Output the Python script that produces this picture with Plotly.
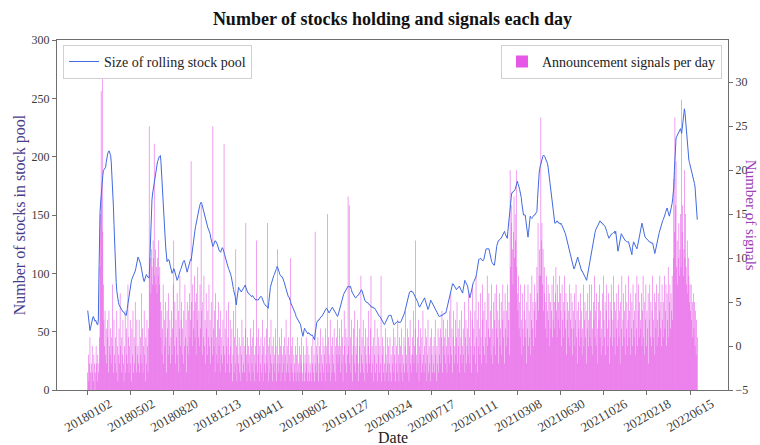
import plotly.graph_objects as go

# Tick labels along the trading-day axis (one label every 77 trading days)
tick_dates = ["20180102", "20180502", "20180820", "20181213", "20190411",
              "20190802", "20191127", "20200324", "20200717", "20201111",
              "20210308", "20210630", "20211026", "20220218", "20220615"]
TICK_STEP = 77

# Size of the rolling stock pool, one value per trading day
pool_p0 = [68,62,58,54,51,53,56,59,61,62, 63,62,60,59,60,58,57,56,56,60, 95,135,152,160,168,175,180,184,188,189,
           190,191,191,195,199,201,203,204,205,204, 203,201,196,188,176,166,157,142,126,111, 101,92,85,80,77,75,73,72,71,70,
           70,69,68,67,67,66,66,65,64,64, 66,70,74,78,81,83,86,90,93,95, 96,97,98,99,100,102,104,107,110,112]
pool_p1 = [114,113,112,110,109,107,104,101,98,96, 94,93,95,97,98,99,98,97,96,96, 96,112,130,146,157,163,168,171,175,180,
           184,186,189,191,194,196,197,199,200,200, 201,196,186,174,164,155,147,140,134,127, 120,114,110,111,112,111,111,108,105,102,
           101,100,101,102,104,103,101,99,97,95, 94,95,97,99,101,102,103,104,106,107, 108,110,111,111,109,106,104,102,101,103]
pool_p2 = [105,107,109,111,112,111,115,120,126,130, 132,134,137,140,143,146,148,149,152,155, 157,159,160,161,160,158,155,153,151,149,
           147,145,143,142,140,139,138,137,136,134, 131,129,127,125,123,124,126,127,128,127, 127,126,124,122,121,120,119,118,118,120,
           121,122,121,120,118,116,114,112,110,109, 107,106,104,103,102,100,99,97,95,92, 89,86,84,83,80,76,73,78,84,88]
pool_p3 = [88,87,86,85,84,84,85,86,87,88, 89,90,90,88,86,85,84,83,83,82, 82,81,81,80,80,81,80,79,79,78,
           78,77,78,77,77,77,78,79,80,80, 80,80,79,77,76,75,74,73,73,72, 72,71,70,70,75,81,86,88,90,92,
           93,94,96,98,99,101,102,103,104,106, 105,103,101,100,99,98,98,97,97,96, 95,94,92,90,88,86,84,83,82,80]
pool_p4 = [80,79,77,76,74,73,71,70,69,68, 67,66,65,63,62,61,60,59,59,58, 57,56,53,50,48,46,48,51,53,52,
           51,50,49,49,48,49,49,48,48,47, 47,47,47,46,45,44,43,48,53,57, 58,59,59,60,60,61,62,62,63,63,
           64,65,66,66,67,68,69,70,70,69, 68,67,66,67,68,69,70,71,71,70, 69,68,67,66,65,64,63,63,64,66]
pool_p5 = [68,70,72,74,76,77,79,80,82,83, 84,85,86,87,88,89,89,89,88,88, 89,88,86,84,83,82,81,80,79,79,
           79,80,80,81,81,82,83,84,85,85, 86,85,83,81,79,77,77,76,76,75, 75,75,74,74,73,73,72,72,71,71,
           71,71,70,70,70,69,68,67,66,66, 65,64,63,63,62,61,60,59,58,57, 56,56,57,58,60,61,62,63,63,64]
pool_p6 = [64,64,64,64,62,60,58,57,56,56, 57,57,58,58,59,59,58,58,58,58, 58,59,60,61,62,63,64,66,68,70,
           72,74,77,79,81,83,84,84,85,85, 84,84,84,83,82,81,80,79,79,78, 76,75,73,72,71,72,73,74,75,76,
           77,78,78,79,77,75,73,71,70,69, 70,72,74,76,77,76,75,74,73,72, 71,70,69,68,67,66,65,64,63,63]
pool_p7 = [63,63,64,64,64,64,65,65,65,66, 66,66,68,70,72,74,76,79,82,84, 86,88,90,91,91,90,89,88,87,86,
           86,87,87,88,88,89,88,87,86,85, 84,83,86,89,92,94,93,92,91,90, 89,86,83,80,79,81,84,87,89,91,
           92,93,94,95,96,97,100,104,108,111, 112,112,113,113,112,112,111,111,111,112, 114,117,120,121,121,121,121,121,121,119]
pool_p8 = [116,114,111,110,109,108,107,107,107,112, 116,120,123,125,127,128,128,129,129,130, 130,131,132,133,134,135,136,134,133,132,
           131,130,136,142,147,151,156,161,165,169, 169,170,170,171,171,172,174,176,177,179, 177,176,174,172,170,169,165,160,155,151,
           150,150,150,150,146,142,138,134,131,135, 140,145,149,148,147,147,148,149,149,150, 150,151,152,152,153,163,174,180,186,190]
pool_p9 = [192,194,196,198,200,201,201,201,200,199, 198,197,196,194,191,187,183,178,174,170, 165,161,157,153,150,146,143,143,144,144,
           145,144,144,143,143,143,142,143,142,141, 140,139,138,137,135,134,132,130,129,127, 125,123,120,118,115,113,111,109,107,105,
           104,104,106,108,110,112,113,114,112,110, 108,106,104,103,102,102,101,101,100,99, 98,97,95,94,97,100,103,106,109,112]
pool_p10 = [115,118,121,123,126,128,131,133,135,137, 138,140,141,142,143,144,145,145,144,144, 143,143,142,142,141,141,140,139,138,136,
            134,132,131,130,131,132,133,133,134,134, 135,135,135,136,134,136,132,127,122,119, 121,124,127,130,132,134,133,132,131,130,
            129,129,128,128,127,127,127,127,127,125, 123,121,119,117,116,122,127,127,126,125, 124,123,122,121,123,126,129,132,135,138]
pool_p11 = [140,142,143,141,138,136,134,132,131,130, 130,129,129,128,128,127,127,127,126,126, 126,126,124,122,119,117,119,122,125,128,
            130,131,133,135,137,139,140,141,143,145, 146,147,149,150,152,153,155,156,154,151, 149,149,151,153,155,157,160,164,169,174,
            188,202,214,216,217,218,219,220,221,222, 223,224,222,220,224,229,234,238,241,238, 232,226,219,211,204,199,197,195,193,192]
pool_p12 = [191,189,186,183,181,179,177,174,168,161,153,146]

# Announcement signals per trading day
sig_p0 = [2,4,1,3,6,2,0,3,5,2, 1,4,3,0,2,5,3,1,4,2, 3,6,14,20,34,22,37,18,12,8,
          5,9,4,7,3,8,6,2,9,5, 4,7,3,6,12,5,2,8,4,3, 6,2,9,5,1,4,7,3,11,5,
          2,6,4,8,3,1,5,9,2,7, 4,3,12,6,2,5,8,3,1,7, 4,9,2,6,3,10,5,2,8,4]
sig_p1 = [5,3,8,2,6,4,11,3,7,2, 5,9,4,1,6,3,8,5,2,7,
          30,13,15,11,16,14,12,17,15,28, 13,16,12,14,11,15,13,17,12,14, 10,6,9,4,7,12,3,8,5,10,
          6,2,9,7,4,11,5,8,3,6, 9,4,7,12,17,5,10,3,8,6, 11,4,9,2,7,13,5,8,10,4, 7,3,9,5,12,6,8,2,10,5]
sig_p2 = [9,4,11,6,8,26,10,5,12,7, 9,13,6,10,4,11,8,14,6,9, 5,12,7,21,9,4,10,6,13,5,
          8,3,11,7,4,9,6,12,5,8, 3,10,6,4,30,7,5,9,2,11, 6,4,8,3,10,5,7,2,9,4,
          6,3,8,5,28,4,7,2,9,5, 3,6,10,4,2,8,5,3,7,1, 4,9,2,6,3,16,5,1,7,4]
sig_p3 = [3,6,2,5,1,4,8,2,6,3, 5,2,7,19,4,1,6,3,5,2, 4,7,1,5,3,6,2,8,4,1,
          5,3,17,6,2,4,7,1,5,3, 6,2,4,8,1,5,3,6,2,4, 7,3,19,5,1,6,2,4,8,3,
          5,1,6,3,4,2,7,5,1,3, 16,4,2,6,3,5,1,7,4,2, 5,3,6,1,4,8,2,5,3,6]
sig_p4 = [2,4,1,15,3,5,2,6,1,4, 3,2,5,1,4,6,2,3,1,5, 2,4,3,6,1,2,5,3,1,4,
          2,6,3,1,5,2,4,1,3,2, 5,1,3,6,2,4,1,18,3,5, 2,4,6,1,3,5,2,7,4,1,
          3,6,2,5,4,1,7,3,5,20, 2,6,4,3,8,1,5,2,6,4, 3,7,2,5,1,6,4,8,3,5]
sig_p5 = [4,7,2,5,8,3,6,1,4,9, 5,3,7,2,6,4,22,5,21,3, 6,2,8,4,1,5,7,3,9,2,
          5,4,6,8,3,1,7,5,2,13, 4,6,3,8,2,5,1,7,4,3, 6,2,5,9,3,4,7,13,2,5,
          3,6,1,4,8,2,5,3,7,1, 4,6,2,5,3,13,1,4,6,2, 5,3,1,7,4,2,6,3,5,1]
sig_p6 = [3,6,2,4,1,5,3,7,2,4, 6,1,3,5,2,8,4,1,6,3, 5,2,7,4,1,3,6,2,5,9,
          3,4,7,2,6,1,5,8,3,4, 2,6,4,9,3,5,7,17,4,2, 6,3,8,1,5,4,7,2,6,3,
          9,4,2,5,7,3,6,1,4,8, 2,5,3,6,1,7,4,2,5,3, 6,2,8,4,1,5,3,7,2,6]
sig_p7 = [4,7,3,6,9,2,5,8,4,6, 3,7,5,2,8,4,6,3,9,5, 11,4,7,2,6,9,3,5,8,4,
          6,10,3,7,5,2,8,4,6,9, 3,5,7,4,10,2,6,8,3,5, 7,4,11,6,3,9,5,2,8,12,
          4,7,5,9,3,13,6,8,2,10, 5,7,4,11,6,3,8,12,5,9, 4,10,6,3,8,13,5,7,11,6]
sig_p8 = [6,9,4,12,7,3,10,5,8,11, 4,7,12,6,9,3,8,11,5,7, 10,4,8,12,6,9,3,11,7,5,
          9,12,6,8,10,4,25,14,19,21, 16,12,18,22,15,20,17,25,14,11, 9,13,7,10,6,12,8,4,11,7,
          5,9,12,6,8,3,10,7,12,5, 9,6,11,4,8,13,7,10,5,9, 12,6,10,8,14,11,19,9,13,16]
sig_p9 = [13,31,17,19,12,16,9,14,11,7, 10,13,6,9,12,8,11,5,10,7, 9,12,6,8,13,10,7,11,14,9,
          6,12,8,10,13,7,11,9,5,12, 8,10,6,13,9,7,11,4,8,10, 6,9,12,5,8,11,7,10,4,9,
          7,11,5,8,12,6,9,3,10,7, 5,8,11,6,9,4,7,12,5,8, 10,6,9,3,7,11,5,8,12,6]
sig_p10 = [9,5,12,7,4,10,8,13,6,9, 5,11,7,3,10,8,12,6,9,4, 7,11,5,13,8,6,10,4,9,12,
           7,5,11,8,3,10,6,12,9,5, 8,13,6,10,4,9,7,11,5,8, 12,6,9,3,10,7,13,5,8,11,
           6,9,4,12,7,10,5,8,13,6, 9,4,11,7,10,5,12,8,6,9, 4,11,7,13,5,9,12,6,10,8]
sig_p11 = [7,11,5,9,13,6,10,4,8,12, 5,9,7,11,3,8,12,6,10,5, 9,13,6,8,11,4,10,7,12,5,
           8,11,6,9,13,7,10,5,12,8, 6,10,13,7,9,12,5,11,8,14, 6,10,12,7,11,9,13,8,15,24,
           18,31,21,26,14,17,12,15,19,13, 16,20,14,33,18,21,13,16,25,15, 20,14,12,17,11,15,13,10,12,9]
sig_p12 = [12,8,10,6,11,7,10,5,9,4,8,6]

pool_size = (pool_p0 + pool_p1 + pool_p2 + pool_p3 + pool_p4 + pool_p5 + pool_p6 +
             pool_p7 + pool_p8 + pool_p9 + pool_p10 + pool_p11 + pool_p12)
signals = (sig_p0 + sig_p1 + sig_p2 + sig_p3 + sig_p4 + sig_p5 + sig_p6 +
           sig_p7 + sig_p8 + sig_p9 + sig_p10 + sig_p11 + sig_p12)
days = list(range(len(pool_size)))

SERIF = "Liberation Serif"
AXIS_GREY = "#6f6f6f"
TEXT_GREY = "#3a3a3a"

fig = go.Figure()

# Bars sit on the floor of the signal axis (-5). The fill is kept just under
# full opacity so each sub-pixel bar keeps its own width; a deeper violet
# compensates for the anti-aliased thin bars.
fig.add_trace(go.Bar(
    x=days, y=signals, base=-5, width=1.0, yaxis="y",
    marker=dict(color="rgba(230,86,230,0.995)", line=dict(width=0)),
    name="Announcement signals per day", legend="legend2",
))
fig.add_trace(go.Scatter(
    x=days, y=pool_size, yaxis="y2", mode="lines",
    line=dict(color="royalblue", width=1),
    name="Size of rolling stock pool", legend="legend",
))

tick_pos = [k * TICK_STEP for k in range(len(tick_dates))]

annotations = [
    dict(x=p, y=-0.072, xref="x", yref="paper", text=t, textangle=-30,
         showarrow=False, xanchor="center", yanchor="middle",
         font=dict(family=SERIF, size=13, color=TEXT_GREY))
    for p, t in zip(tick_pos, tick_dates)
]
annotations += [
    dict(x=0.5, y=-0.136, xref="paper", yref="paper", text="Date", showarrow=False,
         xanchor="center", yanchor="middle", font=dict(family=SERIF, size=16, color="#222")),
    dict(x=-0.0547, y=0.5, xref="paper", yref="paper", text="Number of stocks in stock pool",
         textangle=-90, showarrow=False, xanchor="center", yanchor="middle",
         font=dict(family=SERIF, size=16, color="#483D8B")),
    dict(x=1.0345, y=0.5, xref="paper", yref="paper", text="Number of signals",
         textangle=90, showarrow=False, xanchor="center", yanchor="middle",
         font=dict(family=SERIF, size=15, color="#a040b8")),
]

axis_common = dict(showline=True, linecolor=AXIS_GREY, linewidth=1, ticks="outside",
                   ticklen=4, tickcolor=AXIS_GREY, showgrid=False, zeroline=False,
                   tickfont=dict(family=SERIF, size=12, color=TEXT_GREY))

fig.update_layout(
    width=760, height=445,
    margin=dict(l=57, r=27, t=40, b=55),
    paper_bgcolor="white", plot_bgcolor="white",
    font=dict(family=SERIF, size=13, color=TEXT_GREY),
    title=dict(text="<b>Number of stocks holding and signals each day</b>",
               x=0.5, xref="paper", xanchor="center", y=1 - 19 / 445, yanchor="middle",
               font=dict(family=SERIF, size=18, color="#111")),
    xaxis=dict(range=[-55, 1146], tickvals=tick_pos, showticklabels=False,
               mirror=True, **axis_common),
    yaxis=dict(side="right", range=[-5, 34.8], tickvals=list(range(-5, 31, 5)), **axis_common),
    yaxis2=dict(side="left", overlaying="y", range=[0, 300], tickvals=list(range(0, 301, 50)),
                **axis_common),
    showlegend=True,
    legend=dict(x=0.009, y=0.986, xanchor="left", yanchor="top", bgcolor="white",
                bordercolor="#d0d0d0", borderwidth=1,
                font=dict(family=SERIF, size=14, color="#222")),
    legend2=dict(x=0.991, y=0.986, xanchor="right", yanchor="top", bgcolor="white",
                 bordercolor="#d0d0d0", borderwidth=1,
                 font=dict(family=SERIF, size=14, color="#222")),
    annotations=annotations,
)

fig.write_html("out.html")
